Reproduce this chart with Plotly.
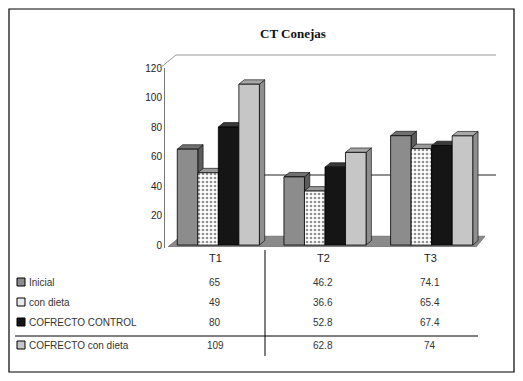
import plotly.graph_objects as go

categories = ["T1", "T2", "T3"]
series_names = ["Inicial", "con dieta", "COFRECTO CONTROL", "COFRECTO con dieta"]
inicial = [65, 46.2, 74.1]
con_dieta = [49, 36.6, 65.4]
cofrecto_control = [80, 52.8, 67.4]
cofrecto_dieta = [109, 62.8, 74]
table_text = [["65", "46.2", "74.1"], ["49", "36.6", "65.4"], ["80", "52.8", "67.4"], ["109", "62.8", "74"]]
y_ticks = [0, 20, 40, 60, 80, 100, 120]

series = [inicial, con_dieta, cofrecto_control, cofrecto_dieta]
face = ["#8c8c8c", "#ffffff", "#151515", "#c6c6c6"]
side = ["#5c5c5c", "#6a6a6a", "#000000", "#8e8e8e"]
top = ["#707070", "#9a9a9a", "#3a3a3a", "#a8a8a8"]

OFF = 8  # page body margin
W, H = 523 - 2 * OFF, 381 - 2 * OFF
L, T = 165 - OFF, 68 - OFF
R = W - (485 - OFF)
B = H - (248 - OFF)
PW, PH = W - L - R, H - T - B


def px(x):
    return (x - OFF - L) / PW


def py(y):
    return (H - B - (y - OFF)) / PH


fig = go.Figure()
xs = list(range(len(categories)))
bargap = 0.23
bw = (1 - bargap) / 4
dx, dy = 0.05, 3.0
shapes = []
shapes.append(dict(type="path", xref="x", yref="y", layer="below",
                   path="M -0.47,-1 L 2.42,-1 L 2.5,6 L -0.35,6 Z",
                   fillcolor="#8a8a8a", line=dict(color="#555", width=0.6)))
for j, (name, vals) in enumerate(zip(series_names, series)):
    mk = dict(color=face[j], line=dict(color="#000", width=0.8))
    if j == 1:
        mk["pattern"] = dict(shape=".", fgcolor="#222", bgcolor="#fff", size=4, solidity=0.35)
    fig.add_trace(go.Bar(x=xs, y=vals, name=name, marker=mk, showlegend=False))
    for i, v in enumerate(vals):
        cx = i - (1 - bargap) / 2 + bw * (j + 0.5)
        xl, xr = cx - bw / 2, cx + bw / 2
        shapes.append(dict(type="path", xref="x", yref="y", layer="below",
                           path=f"M {xr},0 L {xr},{v} L {xr+dx},{v+dy} L {xr+dx},{dy} Z",
                           fillcolor=side[j], line=dict(color="#000", width=0.6)))
        shapes.append(dict(type="path", xref="x", yref="y", layer="below",
                           path=f"M {xl},{v} L {xr},{v} L {xr+dx},{v+dy} L {xl+dx},{v+dy} Z",
                           fillcolor=top[j], line=dict(color="#000", width=0.6)))

# outer border
shapes.append(dict(type="rect", xref="paper", yref="paper", x0=px(9), x1=px(514),
                   y0=py(372), y1=py(9), line=dict(color="#000", width=1.2)))
# back wall top and left wall lines
shapes.append(dict(type="line", xref="paper", yref="paper", x0=px(176), x1=px(496), y0=py(55), y1=py(55),
                   line=dict(color="#999", width=1)))
shapes.append(dict(type="line", xref="paper", yref="paper", x0=px(160), x1=px(176), y0=py(68), y1=py(55),
                   line=dict(color="#999", width=1)))
shapes.append(dict(type="line", xref="paper", yref="paper", x0=px(263), x1=px(496), y0=py(175), y1=py(175),
                   line=dict(color="#222", width=1), layer="below"))
# table lines
shapes.append(dict(type="line", xref="paper", yref="paper", x0=px(265), x1=px(265), y0=py(250), y1=py(356),
                   line=dict(color="#000", width=1)))
shapes.append(dict(type="line", xref="paper", yref="paper", x0=px(15), x1=px(478), y0=py(336), y1=py(336),
                   line=dict(color="#000", width=1)))

annotations = []
col_x = [215, 323, 430]
for i, c in enumerate(categories):
    annotations.append(dict(xref="paper", yref="paper", x=px(col_x[i]), y=py(258), text=c, showarrow=False,
                            xanchor="center", yanchor="middle", font=dict(size=11, color="#222")))
row_y = [282, 302, 322, 345]
for j, name in enumerate(series_names):
    shapes.append(dict(type="rect", xref="paper", yref="paper", x0=px(17), x1=px(25), y0=py(row_y[j] + 4),
                       y1=py(row_y[j] - 4), fillcolor=face[j] if j != 1 else "#e8e8e8",
                       line=dict(color="#000", width=1)))
    annotations.append(dict(xref="paper", yref="paper", x=px(27), y=py(row_y[j]), xanchor="left",
                            yanchor="middle", text=name, showarrow=False, font=dict(size=10, color="#333")))
    for i in range(len(categories)):
        annotations.append(dict(xref="paper", yref="paper", x=px(col_x[i]), y=py(row_y[j]),
                                xanchor="center", yanchor="middle",
                                text=table_text[j][i], showarrow=False, font=dict(size=10, color="#333")))

annotations.append(dict(xref="paper", yref="paper", x=px(293), y=py(33), xanchor="center", yanchor="middle",
                        text="<b>CT Conejas</b>", showarrow=False,
                        font=dict(family="Liberation Serif, Times New Roman", size=13, color="#111")))

fig.update_layout(
    width=W, height=H, margin=dict(l=L, r=R, t=T, b=B),
    paper_bgcolor="#fff", plot_bgcolor="#fff",
    barmode="group", bargap=bargap, bargroupgap=0,
    font=dict(family="Liberation Sans, Arial", size=10, color="#222"),
    xaxis=dict(range=[-0.5, 2.5], showticklabels=False, showgrid=False, zeroline=False,
               showline=False, ticks=""),
    yaxis=dict(range=[-2, 120], tickvals=y_ticks, showgrid=False, zeroline=False, showline=True,
               linecolor="#777", linewidth=1, ticks="", tickfont=dict(size=10, color="#222")),
    shapes=shapes, annotations=annotations,
)
fig.write_html("out.html")
